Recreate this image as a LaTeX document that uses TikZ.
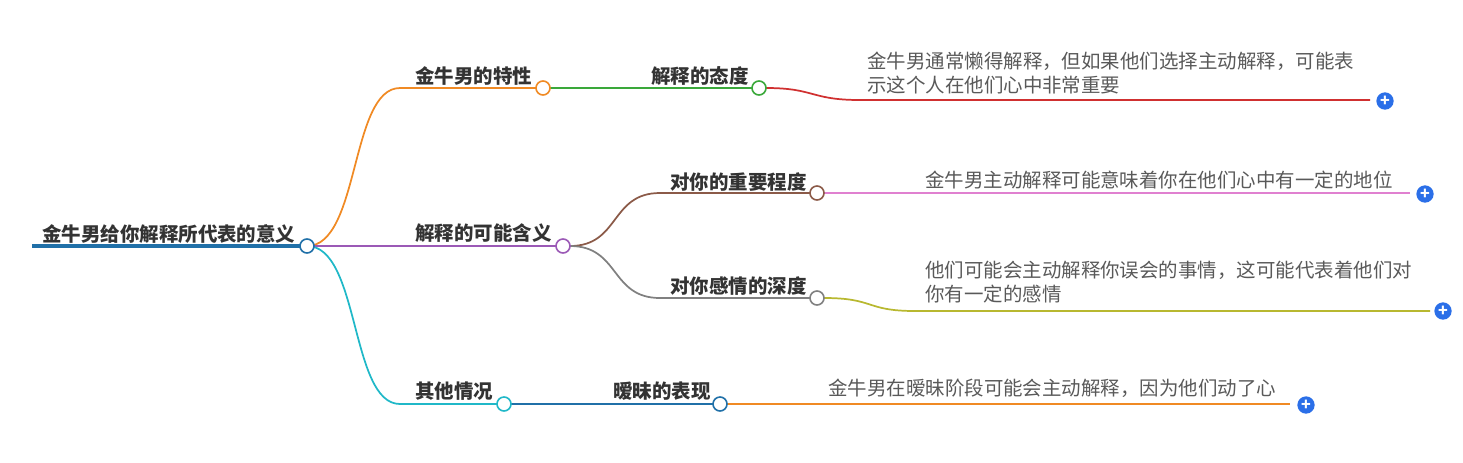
\documentclass[tikz,border=0pt]{standalone}
\usepackage{fontspec}
\setmainfont{Noto Sans CJK SC}
\begin{document}
\begin{tikzpicture}[x=0.75pt,y=-0.75pt,
 dot/.style={circle,draw=#1,fill=white,line width=1.2pt,minimum size=10.5pt,inner sep=0pt},
 lbl/.style={font=\fontsize{14.6}{17}\selectfont\bfseries,text=black!80,anchor=base west,inner sep=0pt},
 leaf/.style={font=\fontsize{14.6}{17.5}\selectfont,text=black!65,anchor=north west,inner sep=0pt,align=left},
 plus/.style={circle,fill=pl,minimum size=13pt,inner sep=0pt,text=white,font=\bfseries\fontsize{12}{12}\selectfont},
 ln/.style={line width=1.3pt}]
\definecolor{pl}{HTML}{2B6FE8}
\definecolor{cO}{HTML}{F08A24}\definecolor{cG}{HTML}{3AA83A}\definecolor{cR}{HTML}{D03030}
\definecolor{cP}{HTML}{9B59B6}\definecolor{cB}{HTML}{8B5A48}\definecolor{cK}{HTML}{E080D0}
\definecolor{cY}{HTML}{808080}\definecolor{cL}{HTML}{B8B830}\definecolor{cC}{HTML}{20B8C8}
\definecolor{cD}{HTML}{2070A8}\definecolor{cE}{HTML}{F08A24}
\useasboundingbox (0,0) rectangle (1463,462);
\draw[line width=3pt,cD] (32,246) -- (300,246);
\node[lbl] (root) at (42,241) {金牛男给你解释所代表的意义};
% branch 1
\draw[ln,cO] (307,246) .. controls (360,246) and (350,88) .. (400,88) -- (536,88);
\node[lbl] (t1) at (415,83) {金牛男的特性};
\draw[ln,cG] (550,88) -- (752,88);
\node[lbl] (t11) at (651,83) {解释的态度};
\draw[ln,cR] (766,88) .. controls (815,88) and (810,100) .. (860,100) -- (1370,100);
\node[leaf] (l1) at (867,52) {金牛男通常懒得解释，但如果他们选择主动解释，可能表\\示这个人在他们心中非常重要};
\node[dot=cG] (d11) at (759,88) {};
\node[dot=cO] (d1) at (543,88) {};
\node[plus] (p1) at (1385,101) {+};
% branch 2
\draw[ln,cP] (307,246) -- (556,246);
\node[lbl] (t2) at (415,240) {解释的可能含义};
\draw[ln,cB] (570,246) .. controls (620,246) and (610,193) .. (660,193) -- (810,193);
\node[lbl] (t21) at (670,189) {对你的重要程度};
\draw[ln,cK] (824,193) -- (1410,193);
\node[leaf] (l2) at (925,171) {金牛男主动解释可能意味着你在他们心中有一定的地位};
\node[plus] (p2) at (1425,194) {+};
\draw[ln,cY] (570,246) .. controls (620,246) and (610,298) .. (660,298) -- (810,298);
\node[lbl] (t22) at (670,293) {对你感情的深度};
\draw[ln,cL] (824,298) .. controls (875,298) and (865,311) .. (915,311) -- (1430,311);
\node[leaf] (l3) at (925,261) {他们可能会主动解释你误会的事情，这可能代表着他们对\\你有一定的感情};
\node[plus] (p3) at (1443,311) {+};
\node[dot=cB] (d21) at (817,193) {};
\node[dot=cY] (d22) at (817,298) {};
\node[dot=cP] (d2) at (563,246) {};
% branch 3
\draw[ln,cC] (307,246) .. controls (360,246) and (350,404) .. (400,404) -- (497,404);
\node[lbl] (t3) at (415,398) {其他情况};
\draw[ln,cD] (511,404) -- (713,404);
\node[lbl] (t31) at (613,398) {暧昧的表现};
\draw[ln,cE] (727,404) -- (1290,404);
\node[leaf] (l4) at (828,379) {金牛男在暧昧阶段可能会主动解释，因为他们动了心};
\node[plus] (p4) at (1306,405) {+};
\node[dot=cC] (d3) at (504,404) {};
\node[dot=cD] (d31) at (720,404) {};
\node[dot=cD] (d0) at (307,246) {};
\end{tikzpicture}
\end{document}
